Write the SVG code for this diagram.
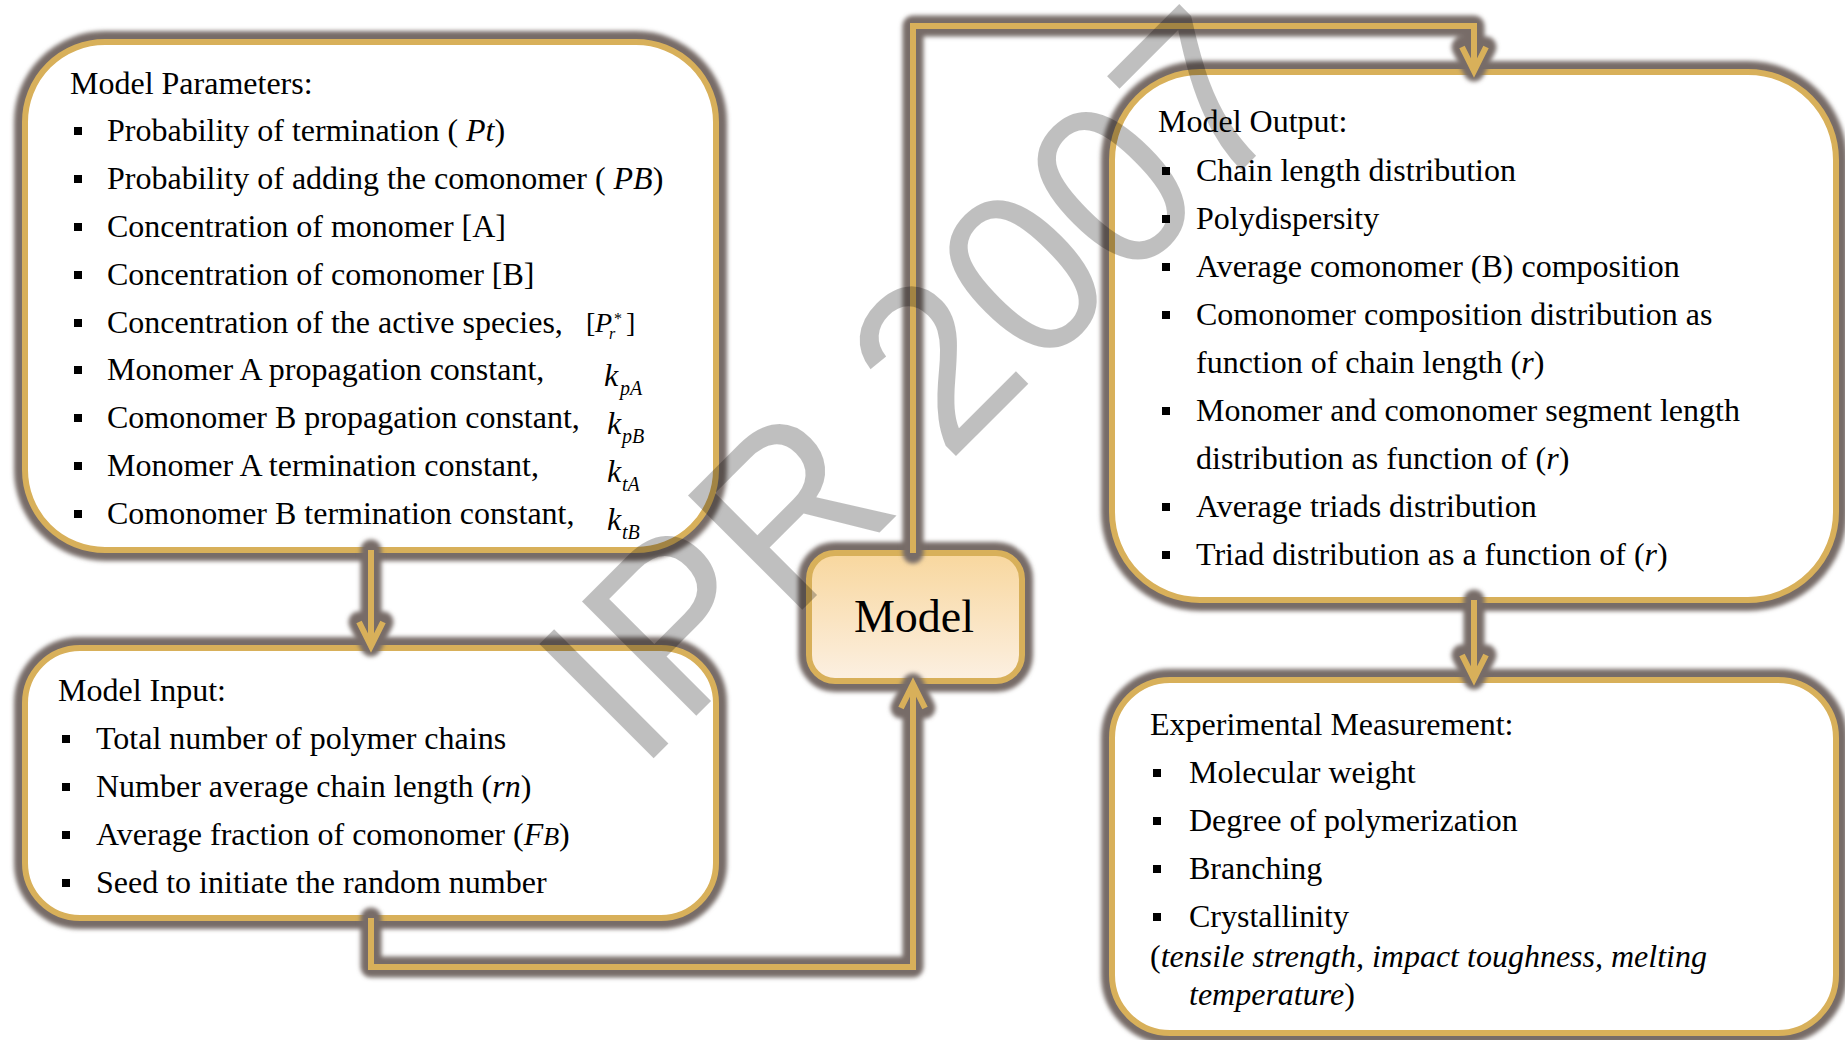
<svg xmlns="http://www.w3.org/2000/svg" width="1845" height="1040" viewBox="0 0 1845 1040">
<defs>
<style>
.t{font-family:"Liberation Serif","Times New Roman",serif;font-size:32px;fill:#000}
.i{font-style:italic}
.glow{fill:none;stroke:#776c67;stroke-width:22}
.box{fill:#fff;stroke:#d8b05a;stroke-width:6}
.cg{fill:none;stroke:#776c67;stroke-width:21;stroke-linecap:round;stroke-linejoin:round}
.cl{fill:none;stroke:#d8b05a;stroke-width:6;stroke-linejoin:miter;stroke-linecap:butt}
.b{fill:#000}
.wm{font-family:"Liberation Sans",Arial,sans-serif;font-size:235px;fill:#000;fill-opacity:0.25}
</style>
<filter id="soft" filterUnits="userSpaceOnUse" x="0" y="0" width="1845" height="1040"><feGaussianBlur stdDeviation="2"/></filter>
<linearGradient id="mg" x1="0" y1="0" x2="0" y2="1"><stop offset="0" stop-color="#f8d79e"/><stop offset="1" stop-color="#fcf0e2"/></linearGradient>
</defs>

<g id="params">
<rect class="glow" filter="url(#soft)" x="25" y="42" width="691" height="508" rx="80"/>
<rect class="box" x="25" y="42" width="691" height="508" rx="80"/>
<text class="t" x="70" y="94">Model Parameters:</text>
<rect class="b" x="74" y="127" width="8" height="8"/><text class="t" x="107" y="141">Probability of termination ( <tspan class="i">Pt</tspan>)</text>
<rect class="b" x="74" y="175" width="8" height="8"/><text class="t" x="107" y="189">Probability of adding the comonomer ( <tspan class="i">PB</tspan>)</text>
<rect class="b" x="74" y="223" width="8" height="8"/><text class="t" x="107" y="237">Concentration of monomer [A]</text>
<rect class="b" x="74" y="271" width="8" height="8"/><text class="t" x="107" y="285">Concentration of comonomer [B]</text>
<rect class="b" x="74" y="319" width="8" height="8"/><text class="t" x="107" y="333">Concentration of the active species,</text>
<text class="t" x="586" y="332" style="font-size:28px">[</text>
<text class="t i" x="595" y="332" style="font-size:28px">P</text>
<text class="t i" x="609" y="339" style="font-size:16px">r</text>
<text class="t" x="614" y="324" style="font-size:16px">*</text>
<text class="t" x="626" y="332" style="font-size:28px">]</text>
<rect class="b" x="74" y="366" width="8" height="8"/><text class="t" x="107" y="380">Monomer A propagation constant,</text>
<text class="t i" x="604" y="386">k</text><text class="t i" x="620" y="395" style="font-size:20px">pA</text>
<rect class="b" x="74" y="414" width="8" height="8"/><text class="t" x="107" y="428">Comonomer B propagation constant,</text>
<text class="t i" x="607" y="434">k</text><text class="t i" x="622" y="443" style="font-size:20px">pB</text>
<rect class="b" x="74" y="462" width="8" height="8"/><text class="t" x="107" y="476">Monomer A termination constant,</text>
<text class="t i" x="607" y="482">k</text><text class="t i" x="622" y="491" style="font-size:20px">tA</text>
<rect class="b" x="74" y="510" width="8" height="8"/><text class="t" x="107" y="524">Comonomer B termination constant,</text>
<text class="t i" x="607" y="530">k</text><text class="t i" x="622" y="539" style="font-size:20px">tB</text>
</g>

<g id="input">
<rect class="glow" filter="url(#soft)" x="25" y="648" width="691" height="270" rx="55"/>
<rect class="box" x="25" y="648" width="691" height="270" rx="55"/>
<text class="t" x="58" y="701">Model Input:</text>
<rect class="b" x="62" y="735" width="8" height="8"/><text class="t" x="96" y="749">Total number of polymer chains</text>
<rect class="b" x="62" y="783" width="8" height="8"/><text class="t" x="96" y="797">Number average chain length (<tspan class="i">rn</tspan>)</text>
<rect class="b" x="62" y="831" width="8" height="8"/><text class="t" x="96" y="845">Average fraction of comonomer (<tspan class="i">F</tspan><tspan class="i" style="font-size:26px">B</tspan>)</text>
<rect class="b" x="62" y="879" width="8" height="8"/><text class="t" x="96" y="893">Seed to initiate the random number</text>
</g>

<g id="model">
<rect class="glow" filter="url(#soft)" x="809" y="553" width="213" height="128" rx="26"/>
<rect x="809" y="553" width="213" height="128" rx="26" fill="url(#mg)" stroke="#d8b05a" stroke-width="6"/>
<text class="t" x="914" y="632" text-anchor="middle" style="font-size:46px">Model</text>
</g>

<g id="output">
<rect class="glow" filter="url(#soft)" x="1112" y="72" width="724" height="528" rx="88"/>
<rect class="box" x="1112" y="72" width="724" height="528" rx="88"/>
<text class="t" x="1158" y="132">Model Output:</text>
<rect class="b" x="1162" y="167" width="8" height="8"/><text class="t" x="1196" y="181">Chain length distribution</text>
<rect class="b" x="1162" y="215" width="8" height="8"/><text class="t" x="1196" y="229">Polydispersity</text>
<rect class="b" x="1162" y="263" width="8" height="8"/><text class="t" x="1196" y="277">Average comonomer (B) composition</text>
<rect class="b" x="1162" y="311" width="8" height="8"/><text class="t" x="1196" y="325">Comonomer composition distribution as</text>
<text class="t" x="1196" y="373">function of chain length (<tspan class="i">r</tspan>)</text>
<rect class="b" x="1162" y="407" width="8" height="8"/><text class="t" x="1196" y="421">Monomer and comonomer segment length</text>
<text class="t" x="1196" y="469">distribution as function of (<tspan class="i">r</tspan>)</text>
<rect class="b" x="1162" y="503" width="8" height="8"/><text class="t" x="1196" y="517">Average triads distribution</text>
<rect class="b" x="1162" y="551" width="8" height="8"/><text class="t" x="1196" y="565">Triad distribution as a function of (<tspan class="i">r</tspan>)</text>
</g>

<g id="experimental">
<rect class="glow" filter="url(#soft)" x="1112" y="680" width="724" height="353" rx="58"/>
<rect class="box" x="1112" y="680" width="724" height="353" rx="58"/>
<text class="t" x="1150" y="735">Experimental Measurement:</text>
<rect class="b" x="1153" y="769" width="8" height="8"/><text class="t" x="1189" y="783">Molecular weight</text>
<rect class="b" x="1153" y="817" width="8" height="8"/><text class="t" x="1189" y="831">Degree of polymerization</text>
<rect class="b" x="1153" y="865" width="8" height="8"/><text class="t" x="1189" y="879">Branching</text>
<rect class="b" x="1153" y="913" width="8" height="8"/><text class="t" x="1189" y="927">Crystallinity</text>
<text class="t" x="1150" y="967">(<tspan class="i">tensile strength, impact toughness, melting</tspan></text>
<text class="t" x="1189" y="1005"><tspan class="i">temperature</tspan>)</text>
</g>

<g id="connectors">
<g filter="url(#soft)">
<path class="cg" d="M371 550 V645"/>
<polyline class="cg" points="359,622 371,646 383,622"/>
<path class="cg" d="M371 918 V967 H913 V684"/>
<polyline class="cg" points="901,708 913,684 925,708"/>
<path class="cg" d="M913 553 V26 H1474 V70"/>
<polyline class="cg" points="1462,47 1474,71 1486,47"/>
<path class="cg" d="M1474 600 V678"/>
<polyline class="cg" points="1462,655 1474,679 1486,655"/>
</g>
<path class="cl" d="M371 550 V645"/>
<polyline class="cl" points="359,622 371,646 383,622"/>
<path class="cl" d="M371 918 V967 H913 V684"/>
<polyline class="cl" points="901,708 913,684 925,708"/>
<path class="cl" d="M913 553 V26 H1474 V70"/>
<polyline class="cl" points="1462,47 1474,71 1486,47"/>
<path class="cl" d="M1474 600 V678"/>
<polyline class="cl" points="1462,655 1474,679 1486,655"/>
</g>

<g id="watermark">
<text class="wm" transform="translate(639,773) rotate(-45)" textLength="937" lengthAdjust="spacingAndGlyphs">IPR 2007</text>
</g>
</svg>
